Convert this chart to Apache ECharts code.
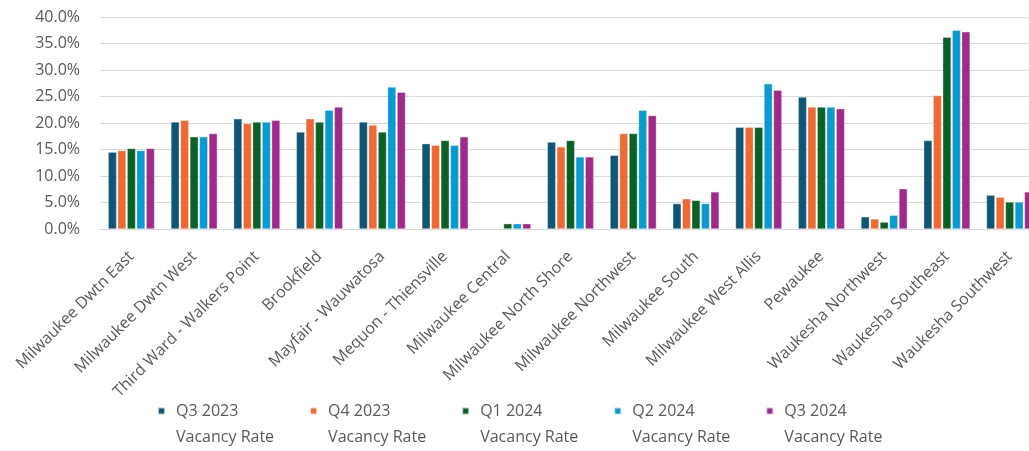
<!DOCTYPE html>
<html>
<head>
<meta charset="utf-8">
<title>Submarket Vacancy Rates</title>
<script src="https://cdn.jsdelivr.net/npm/echarts@6/dist/echarts.min.js"></script>
<style>
  html, body { margin: 0; padding: 0; background: #ffffff; }
  #chart { width: 1029px; height: 451px; }
</style>
</head>
<body>
<div id="chart"></div>
<script>
// Submarkets along the x axis
const submarkets = [
  'Milwaukee Dwtn East', 'Milwaukee Dwtn West', 'Third Ward - Walkers Point',
  'Brookfield', 'Mayfair - Wauwatosa', 'Mequon - Thiensville',
  'Milwaukee Central', 'Milwaukee North Shore', 'Milwaukee Northwest',
  'Milwaukee South', 'Milwaukee West Allis', 'Pewaukee',
  'Waukesha Northwest', 'Waukesha Southeast', 'Waukesha Southwest'
];

// Quarter names (legend, first line)
const quarters = ['Q3 2023', 'Q4 2023', 'Q1 2024', 'Q2 2024', 'Q3 2024'];

// Vacancy rate (%) per submarket, one array per quarter
const q3_2023 = [14.5, 20.2, 20.8, 18.3, 20.2, 16.1, null, 16.4, 13.9, 4.8, 19.2, 24.9, 2.3, 16.7, 6.4];
const q4_2023 = [14.8, 20.5, 19.9, 20.8, 19.6, 15.8, null, 15.5, 18.0, 5.7, 19.2, 23.0, 1.9, 25.2, 6.0];
const q1_2024 = [15.2, 17.4, 20.2, 20.2, 18.3, 16.7, 1.0, 16.7, 18.0, 5.4, 19.2, 23.0, 1.3, 36.2, 5.1];
const q2_2024 = [14.8, 17.4, 20.2, 22.4, 26.8, 15.8, 1.0, 13.6, 22.4, 4.8, 27.4, 23.0, 2.6, 37.5, 5.1];
const q3_2024 = [15.2, 18.0, 20.5, 23.0, 25.8, 17.4, 1.0, 13.6, 21.4, 7.0, 26.2, 22.7, 7.6, 37.2, 7.0];

// Y axis range
const yMin = 0, yMax = 40, yStep = 5;

const seriesValues = [q3_2023, q4_2023, q1_2024, q2_2024, q3_2024];
const colors = ['#0E5676', '#EE6A35', '#0A6127', '#0A9AD2', '#A02A8A'];

const FONT = '"Open Sans", "Liberation Sans", Arial, sans-serif';
const TEXT = '#595959';

const chart = echarts.init(document.getElementById('chart'), null, { renderer: 'canvas' });

chart.setOption({
  animation: false,
  color: colors,
  // plot area runs slightly past the right edge of the canvas
  grid: {
    left: 100, top: 17, width: 941, height: 212,
    containLabel: false,
    outerBoundsMode: 'none'
  },
  legend: {
    left: 157,
    top: 398,
    padding: 0,
    itemGap: 35,
    itemWidth: 7,
    itemHeight: 33,
    // square sitting level with the first text line
    icon: 'path://M0,0h7v7h-7z M0,33h0.01',
    textStyle: {
      fontFamily: FONT,
      fontSize: 16,
      color: TEXT,
      lineHeight: 26,
      padding: [0, 0, 0, 6]
    },
    formatter: name => name + '\nVacancy Rate',
    data: quarters
  },
  xAxis: {
    type: 'category',
    data: submarkets,
    axisLine: { show: true, lineStyle: { color: '#d9d9d9', width: 1 } },
    axisTick: { show: false },
    axisLabel: {
      interval: 0,
      rotate: 45,
      margin: 25,
      fontFamily: FONT,
      fontSize: 16,
      color: TEXT
    }
  },
  yAxis: {
    type: 'value',
    min: yMin,
    max: yMax,
    interval: yStep,
    axisLine: { show: false },
    axisTick: { show: false },
    splitLine: { lineStyle: { color: '#d9d9d9', width: 1 } },
    axisLabel: {
      margin: 20,
      fontFamily: FONT,
      fontSize: 16,
      color: TEXT,
      formatter: v => v.toFixed(1) + '%'
    }
  },
  series: quarters.map((q, i) => ({
    name: q,
    type: 'bar',
    data: seriesValues[i],
    barWidth: 8.4,
    barGap: '13%',
    itemStyle: { borderColor: 'rgba(255,255,255,0.7)', borderWidth: 0.5 }
  }))
});
</script>
</body>
</html>
